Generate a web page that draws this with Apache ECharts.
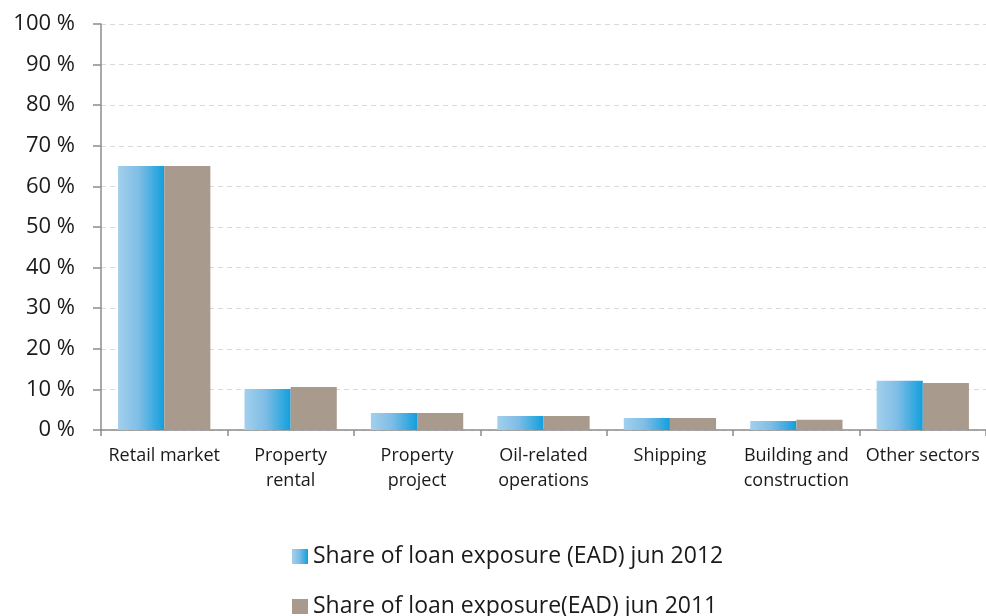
<!DOCTYPE html>
<html>
<head>
<meta charset="utf-8">
<script src="https://cdn.jsdelivr.net/npm/echarts@6/dist/echarts.min.js"></script>
<style>
  html, body { margin: 0; padding: 0; background: #fff; }
  #chart { width: 986px; height: 616px; }
</style>
</head>
<body>
<div id="chart"></div>
<script>
// Sector categories (two-line labels where the text wraps)
const categories = [
  'Retail market',
  'Property\nrental',
  'Property\nproject',
  'Oil-related\noperations',
  'Shipping',
  'Building and\nconstruction',
  'Other sectors'
];

// Share of loan exposure, in percent
const share2012 = [65.0, 10.1, 4.2, 3.45, 2.95, 2.2, 12.1];
const share2011 = [65.0, 10.6, 4.2, 3.45, 2.95, 2.5, 11.6];

const seriesNames = [
  'Share of loan exposure (EAD) jun 2012',
  'Share of loan exposure(EAD) jun 2011'
];

const FONT = '"Open Sans", "Noto Sans", sans-serif';
const TEXT = '#1a1a1a';

const chart = echarts.init(document.getElementById('chart'), null, { renderer: 'canvas' });

const blueGradient = new echarts.graphic.LinearGradient(0, 0, 1, 0, [
  { offset: 0, color: '#a2d0ec' },
  { offset: 0.45, color: '#7fbde6' },
  { offset: 1, color: '#129fdc' }
]);

// one legend block per series, stacked vertically
const legendBlock = (name, top) => ({
  left: 287,
  top: top,
  itemWidth: 16,
  itemHeight: 15,
  itemGap: 0,
  icon: 'rect',
  textStyle: { fontFamily: FONT, fontSize: 23, color: TEXT, padding: [0, 0, 0, 0] },
  data: [name]
});

chart.setOption({
  animation: false,
  backgroundColor: '#ffffff',
  textStyle: { fontFamily: FONT },
  grid: { left: 101, top: 24, width: 886, height: 406, containLabel: false },
  legend: [
    legendBlock(seriesNames[0], 540),
    legendBlock(seriesNames[1], 590)
  ],
  xAxis: {
    type: 'category',
    data: categories,
    axisLine: { lineStyle: { color: '#8c8c8c', width: 1.5 } },
    axisTick: { show: true, length: 6, lineStyle: { color: '#8c8c8c', width: 1.5 } },
    axisLabel: {
      interval: 0,
      fontFamily: FONT,
      fontSize: 18,
      color: TEXT,
      lineHeight: 25,
      margin: 13
    }
  },
  yAxis: {
    type: 'value',
    min: 0,
    max: 100,
    interval: 10,
    axisLine: { show: true, lineStyle: { color: '#8c8c8c', width: 1.5 } },
    axisTick: { show: true, length: 8, lineStyle: { color: '#8c8c8c', width: 1.5 } },
    axisLabel: {
      formatter: '{value} %',
      fontFamily: FONT,
      fontSize: 22,
      color: TEXT,
      margin: 26
    },
    splitLine: { show: true, lineStyle: { color: '#d9d9d9', type: [5, 4], width: 1.2 } }
  },
  series: [
    {
      name: seriesNames[0],
      type: 'bar',
      data: share2012,
      barGap: '0%',
      barCategoryGap: '27%',
      itemStyle: { color: blueGradient }
    },
    {
      name: seriesNames[1],
      type: 'bar',
      data: share2011,
      barGap: '0%',
      barCategoryGap: '27%',
      itemStyle: { color: '#a89b8e' }
    }
  ]
});
</script>
</body>
</html>
